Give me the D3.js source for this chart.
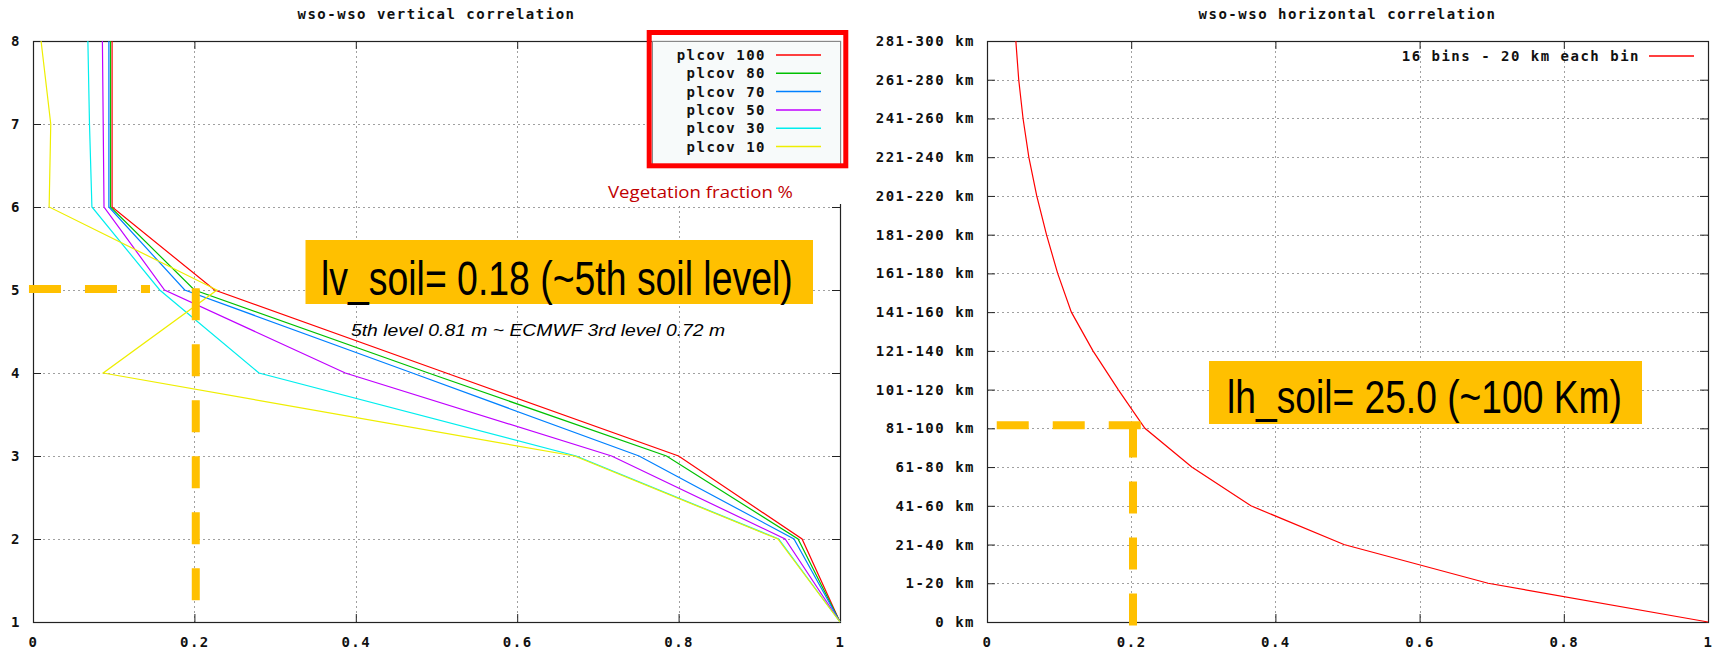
<!DOCTYPE html>
<html>
<head>
<meta charset="utf-8">
<script src="https://cdn.jsdelivr.net/npm/d3@7"></script>
<style>
body { margin: 0; background: #fff; }
.mono { font-family: "DejaVu Sans Mono", monospace; font-weight: bold; font-size: 14px; letter-spacing: 1.5px; fill: #111; }
.grid line { stroke: #a0a0a0; stroke-width: 1; stroke-dasharray: 2,3; }
.tick line { stroke: #222; }
</style>
</head>
<body>
<div id="chart"></div>
<script>
// vertical correlation, soil levels 1..8
var levels = [1, 2, 3, 4, 5, 6, 7, 8];
var plcov100 = [1, 0.953, 0.800, 0.512, 0.225, 0.098, 0.098, 0.098];
var plcov80  = [1, 0.948, 0.785, 0.490, 0.200, 0.096, 0.096, 0.096];
var plcov70  = [1, 0.943, 0.751, 0.470, 0.188, 0.094, 0.094, 0.094];
var plcov50  = [1, 0.932, 0.717, 0.387, 0.163, 0.088, 0.087, 0.086];
var plcov30  = [1, 0.924, 0.673, 0.280, 0.157, 0.073, 0.070, 0.068];
var plcov10  = [1, 0.923, 0.671, 0.087, 0.228, 0.020, 0.022, 0.010];
var series_names = ["plcov 100", "plcov 80", "plcov 70", "plcov 50", "plcov 30", "plcov 10"];
var series_colors = ["#ff0000", "#00c000", "#0080ff", "#c000ff", "#00eeee", "#eeee00"];

// horizontal correlation, 16 bins
var bin_labels = ["0 km", "1-20 km", "21-40 km", "41-60 km", "61-80 km", "81-100 km", "101-120 km", "121-140 km",
                  "141-160 km", "161-180 km", "181-200 km", "201-220 km", "221-240 km", "241-260 km", "261-280 km", "281-300 km"];
var bin_corr = [1.0, 0.695, 0.495, 0.366, 0.284, 0.219, 0.182, 0.147, 0.117, 0.098, 0.0825, 0.069, 0.058, 0.050, 0.044, 0.040];

var x_ticks = [0, 0.2, 0.4, 0.6, 0.8, 1];

// orange marker lines: [x0, x1] at a y value, and x at [y0, y1]
var lv_marker_h = {y: 5, x: [-0.005, 0.145]};
var lv_marker_v = {x: 0.2017, y: [5.02, 1.25]};
var lh_marker_h = {y: 5.08, x: [0.0135, 0.2136]};
var lh_marker_v = {x: 0.2025, y: [5.07, -0.1]};

var svg = d3.select("#chart").append("svg")
    .attr("width", 1725)
    .attr("height", 650);

var orange = "#ffc000";

function panel(left, right, top, bottom, ydomain, yticks, yfmt, title){
    var x = d3.scaleLinear().domain([0, 1]).range([left, right]);
    var y = d3.scaleLinear().domain(ydomain).range([bottom, top]);
    var g = svg.append("g");

    // grid
    var grid = g.append("g").attr("class", "grid");
    grid.selectAll("line.v").data(x_ticks.slice(1, -1)).join("line")
        .attr("x1", d => Math.round(x(d)) + 0.5).attr("x2", d => Math.round(x(d)) + 0.5)
        .attr("y1", top).attr("y2", bottom);
    grid.selectAll("line.h").data(yticks.slice(1, -1)).join("line")
        .attr("y1", d => Math.round(y(d)) + 0.5).attr("y2", d => Math.round(y(d)) + 0.5)
        .attr("x1", left).attr("x2", right);

    // axes, gnuplot style ticks pointing in, mirrored
    var ax = g.append("g");
    ax.append("g").attr("transform", "translate(" + left + ",0)")
        .call(d3.axisLeft(y).tickValues(yticks).tickFormat(yfmt).tickSize(-8).tickPadding(12))
        .call(s => s.select(".domain").remove())
        .selectAll("text").attr("class", "mono");
    ax.append("g").attr("transform", "translate(" + right + ",0)")
        .call(d3.axisRight(y).tickValues(yticks).tickFormat("").tickSize(-8))
        .call(s => s.select(".domain").remove());
    ax.append("g").attr("transform", "translate(0," + bottom + ")")
        .call(d3.axisBottom(x).tickValues(x_ticks).tickFormat(d => String(d)).tickSize(-8).tickPadding(15))
        .call(s => s.select(".domain").remove())
        .selectAll("text").attr("class", "mono");
    ax.append("g").attr("transform", "translate(0," + top + ")")
        .call(d3.axisTop(x).tickValues(x_ticks).tickFormat("").tickSize(-8))
        .call(s => s.select(".domain").remove());
    ax.selectAll("g").attr("font-size", null).attr("font-family", null);

    g.append("rect")
        .attr("x", left + 0.5).attr("y", top + 0.5)
        .attr("width", right - left).attr("height", bottom - top)
        .attr("fill", "none").attr("stroke", "#222").attr("stroke-width", 1.2);

    svg.append("text").attr("class", "mono")
        .attr("x", (left + right) / 2).attr("y", 19)
        .attr("text-anchor", "middle")
        .text(title);

    return {x: x, y: y, g: g};
}

function dashed(pts){
    svg.append("path")
        .attr("d", d3.line()(pts))
        .attr("fill", "none").attr("stroke", orange)
        .attr("stroke-width", 8).attr("stroke-dasharray", "32,24");
}

// big slide label: natural width then stretched vertically
function bigLabel(x, y, size, stretch, txt){
    svg.append("text")
        .attr("transform", "translate(" + x + "," + y + ") scale(1," + stretch + ")")
        .attr("font-family", "'Liberation Sans', Arial, sans-serif").attr("font-size", size)
        .attr("fill", "#000")
        .text(txt);
}

// ---------- left: vertical correlation ----------
var L = panel(33, 840, 41, 622, [1, 8], levels, d => String(d), "wso-wso vertical correlation");
var all_series = [plcov100, plcov80, plcov70, plcov50, plcov30, plcov10];
var line_v = d3.line().x(d => L.x(d[0])).y(d => L.y(d[1]));
all_series.forEach(function(s, i){
    L.g.append("path")
        .datum(s.map((c, j) => [c, levels[j]]))
        .attr("d", line_v)
        .attr("fill", "none").attr("stroke", series_colors[i]).attr("stroke-width", 1.2);
});

// key box
svg.append("rect").attr("x", 652.5).attr("y", 41.5).attr("width", 188).attr("height", 125)
    .attr("fill", "#f7fafa").attr("stroke", "#888");
series_names.forEach(function(n, i){
    var yy = 55 + i * 18.3;
    svg.append("text").attr("class", "mono").attr("x", 766).attr("y", yy + 5)
        .attr("text-anchor", "end").text(n);
    svg.append("line").attr("x1", 776).attr("x2", 821).attr("y1", yy).attr("y2", yy)
        .attr("stroke", series_colors[i]).attr("stroke-width", 1.5);
});

// slide overlay: white patch, red box, labels
svg.append("rect").attr("x", 587).attr("y", 168).attr("width", 262).attr("height", 36).attr("fill", "#fff");
svg.append("rect").attr("x", 649.2).attr("y", 32.5).attr("width", 196.6).attr("height", 133.3)
    .attr("fill", "none").attr("stroke", "#ff0000").attr("stroke-width", 5);
svg.append("text").attr("x", 608).attr("y", 198)
    .attr("font-family", "'Open Sans', 'Noto Sans', sans-serif").attr("font-size", 17)
    .attr("fill", "#c00000").attr("textLength", 185).attr("lengthAdjust", "spacingAndGlyphs")
    .text("Vegetation fraction %");

dashed([[L.x(lv_marker_h.x[0]), L.y(lv_marker_h.y) - 1], [L.x(lv_marker_h.x[1]), L.y(lv_marker_h.y) - 1]]);
dashed([[L.x(lv_marker_v.x), L.y(lv_marker_v.y[0])], [L.x(lv_marker_v.x), L.y(lv_marker_v.y[1])]]);

svg.append("rect").attr("x", 305.5).attr("y", 240).attr("width", 507.5).attr("height", 64).attr("fill", orange);
bigLabel(321, 295, 37.4, 1.28, "lv_soil= 0.18 (~5th soil level)");
svg.append("text").attr("x", 351).attr("y", 336)
    .attr("font-family", "'Liberation Sans', Arial, sans-serif").attr("font-size", 17).attr("font-style", "italic")
    .attr("fill", "#000").attr("textLength", 374).attr("lengthAdjust", "spacingAndGlyphs")
    .text("5th level  0.81 m ~ ECMWF 3rd level 0.72 m");

// ---------- right: horizontal correlation ----------
var R = panel(987, 1708, 41, 622, [0, 15], d3.range(16), i => bin_labels[i], "wso-wso horizontal correlation");
R.g.append("path")
    .datum(bin_corr.map((c, i) => [c, i]))
    .attr("d", d3.line().x(d => R.x(d[0])).y(d => R.y(d[1])))
    .attr("fill", "none").attr("stroke", "#ff0000").attr("stroke-width", 1.2);

svg.append("text").attr("class", "mono").attr("x", 1640).attr("y", 61)
    .attr("text-anchor", "end").text("16 bins - 20 km each bin");
svg.append("line").attr("x1", 1649).attr("x2", 1694).attr("y1", 56).attr("y2", 56)
    .attr("stroke", "#ff0000").attr("stroke-width", 1.5);

dashed([[R.x(lh_marker_h.x[0]), R.y(lh_marker_h.y)], [R.x(lh_marker_h.x[1]), R.y(lh_marker_h.y)]]);
dashed([[R.x(lh_marker_v.x), R.y(lh_marker_v.y[0])], [R.x(lh_marker_v.x), R.y(lh_marker_v.y[1])]]);

svg.append("rect").attr("x", 1209).attr("y", 361).attr("width", 433).attr("height", 63).attr("fill", orange);
bigLabel(1227, 413, 37.2, 1.24, "lh_soil= 25.0 (~100 Km)");
</script>
</body>
</html>
